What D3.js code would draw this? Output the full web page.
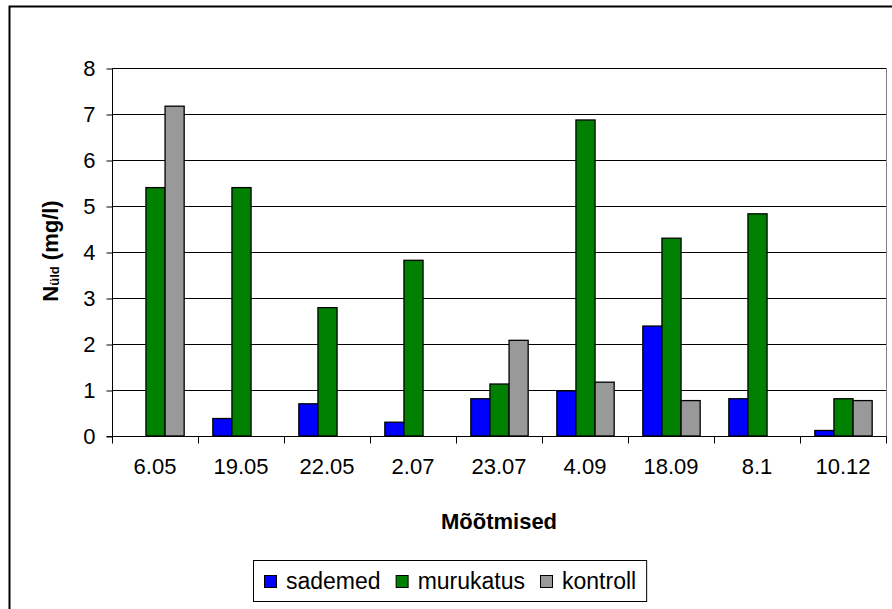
<!DOCTYPE html>
<html>
<head>
<meta charset="utf-8">
<script src="https://cdn.jsdelivr.net/npm/d3@7"></script>
<style>
  html, body { margin: 0; padding: 0; background: #fff; }
  svg { display: block; font-family: Arial, "Liberation Sans", sans-serif; }
</style>
</head>
<body>
<svg id="chart" width="892" height="609"></svg>
<script>
// Measurement dates
const categories = ["6.05", "19.05", "22.05", "2.07", "23.07", "4.09", "18.09", "8.1", "10.12"];
// Total nitrogen, mg/l (null = no measurement)
const sademed   = [null, 0.38, 0.70, 0.30, 0.81, 0.98, 2.39, 0.81, 0.12];
const murukatus = [5.40, 5.40, 2.79, 3.82, 1.13, 6.87, 4.30, 4.83, 0.81];
const kontroll  = [7.17, null, null, null, 2.08, 1.17, 0.77, null, 0.77];
const seriesNames = ["sademed", "murukatus", "kontroll"];
const seriesColors = ["#0000ff", "#008000", "#999999"];
const yTicks = [0, 1, 2, 3, 4, 5, 6, 7, 8];

const seriesValues = [sademed, murukatus, kontroll];
const svg = d3.select("#chart");
const FS = 22;

// Outer chart frame
svg.append("rect")
  .attr("x", 9.5).attr("y", 6.5).attr("width", 900).attr("height", 620)
  .attr("fill", "#fff").attr("stroke", "#000").attr("stroke-width", 2);

const plot = { left: 112, right: 886, top: 68, bottom: 436 };

const x = d3.scaleBand().domain(categories).range([plot.left, plot.right]);
// gap of 1.5 bar widths between groups
const inner = d3.scaleBand().domain(seriesNames)
  .range([0, x.bandwidth()]).paddingInner(0).paddingOuter(0.75);
const y = d3.scaleLinear().domain([0, 8]).range([plot.bottom, plot.top]);

// Horizontal gridlines
svg.append("g").selectAll("line").data(yTicks.slice(1)).join("line")
  .attr("x1", plot.left).attr("x2", plot.right)
  .attr("y1", d => Math.round(y(d)) + 0.5).attr("y2", d => Math.round(y(d)) + 0.5)
  .attr("stroke", "#000").attr("stroke-width", 1);

// Plot border right side
svg.append("line")
  .attr("x1", plot.right + 0.5).attr("x2", plot.right + 0.5)
  .attr("y1", plot.top).attr("y2", plot.bottom)
  .attr("stroke", "#808080").attr("stroke-width", 1);

// Bars
const rows = categories.map((c, i) => ({ c, vals: seriesValues.map(s => s[i]) }));
const groups = svg.append("g").selectAll("g").data(rows).join("g")
  .attr("transform", d => `translate(${x(d.c)},0)`);
groups.selectAll("rect")
  .data(d => seriesNames.map((n, k) => ({ n, k, v: d.vals[k] })).filter(e => e.v != null))
  .join("rect")
  .attr("x", d => inner(d.n) + 0.5)
  .attr("width", inner.bandwidth())
  .attr("y", d => y(d.v))
  .attr("height", d => y(0) - y(d.v))
  .attr("fill", d => seriesColors[d.k])
  .attr("stroke", "#000").attr("stroke-width", 1.3);

// Y axis
const yAxis = d3.axisLeft(y).tickValues(yTicks).tickSize(6).tickPadding(11).tickFormat(d3.format("d"));
const gy = svg.append("g").attr("transform", `translate(${plot.left + 0.5},0.5)`).call(yAxis);
gy.select(".domain").attr("stroke", "#000").attr("d", `M-6,${plot.bottom}H0V${plot.top}`);
gy.selectAll(".tick line").attr("stroke", "#000");
gy.selectAll(".tick text").attr("font-size", FS).attr("fill", "#000")
  .attr("font-family", "Arial, 'Liberation Sans', sans-serif");

// X axis: ticks at group boundaries
const xb = d3.scaleLinear().domain([0, categories.length]).range([plot.left, plot.right]);
const gx = svg.append("g").attr("transform", `translate(0.5,${plot.bottom + 0.5})`);
gx.append("line").attr("x1", plot.left).attr("x2", plot.right).attr("stroke", "#000");
gx.selectAll("line.tk").data(d3.range(categories.length + 1)).join("line")
  .attr("class", "tk")
  .attr("x1", d => Math.round(xb(d))).attr("x2", d => Math.round(xb(d)))
  .attr("y1", 0).attr("y2", 7).attr("stroke", "#000");
svg.append("g").selectAll("text").data(categories).join("text")
  .attr("x", d => x(d) + x.bandwidth() / 2)
  .attr("y", 474)
  .attr("text-anchor", "middle").attr("font-size", FS).attr("fill", "#000")
  .text(d => d);

// Axis titles
svg.append("text")
  .attr("x", (plot.left + plot.right) / 2).attr("y", 529)
  .attr("text-anchor", "middle").attr("font-size", FS).attr("font-weight", "bold")
  .text("Mõõtmised");

const yt = svg.append("text")
  .attr("transform", "translate(58,251) rotate(-90)")
  .attr("text-anchor", "middle").attr("font-size", FS).attr("font-weight", "bold");
yt.append("tspan").text("N");
yt.append("tspan").attr("font-size", 13).attr("dy", 1).text("üld");
yt.append("tspan").attr("dy", -1).text(" (mg/l)");

// Legend
const legend = svg.append("g");
const legBox = legend.append("rect")
  .attr("fill", "#fff").attr("stroke", "#000").attr("stroke-width", 1);
let lx = 264;
seriesNames.forEach((n, k) => {
  legend.append("rect")
    .attr("x", lx + 0.5).attr("y", 575.5).attr("width", 12).attr("height", 12)
    .attr("fill", seriesColors[k]).attr("stroke", "#000");
  const t = legend.append("text")
    .attr("x", lx + 22).attr("y", 589).attr("font-size", 23).text(n);
  lx += 22 + t.node().getComputedTextLength() + 15;
});
legBox.attr("x", 253.5).attr("y", 560.5).attr("width", lx - 253 - 5).attr("height", 41);
</script>
</body>
</html>
